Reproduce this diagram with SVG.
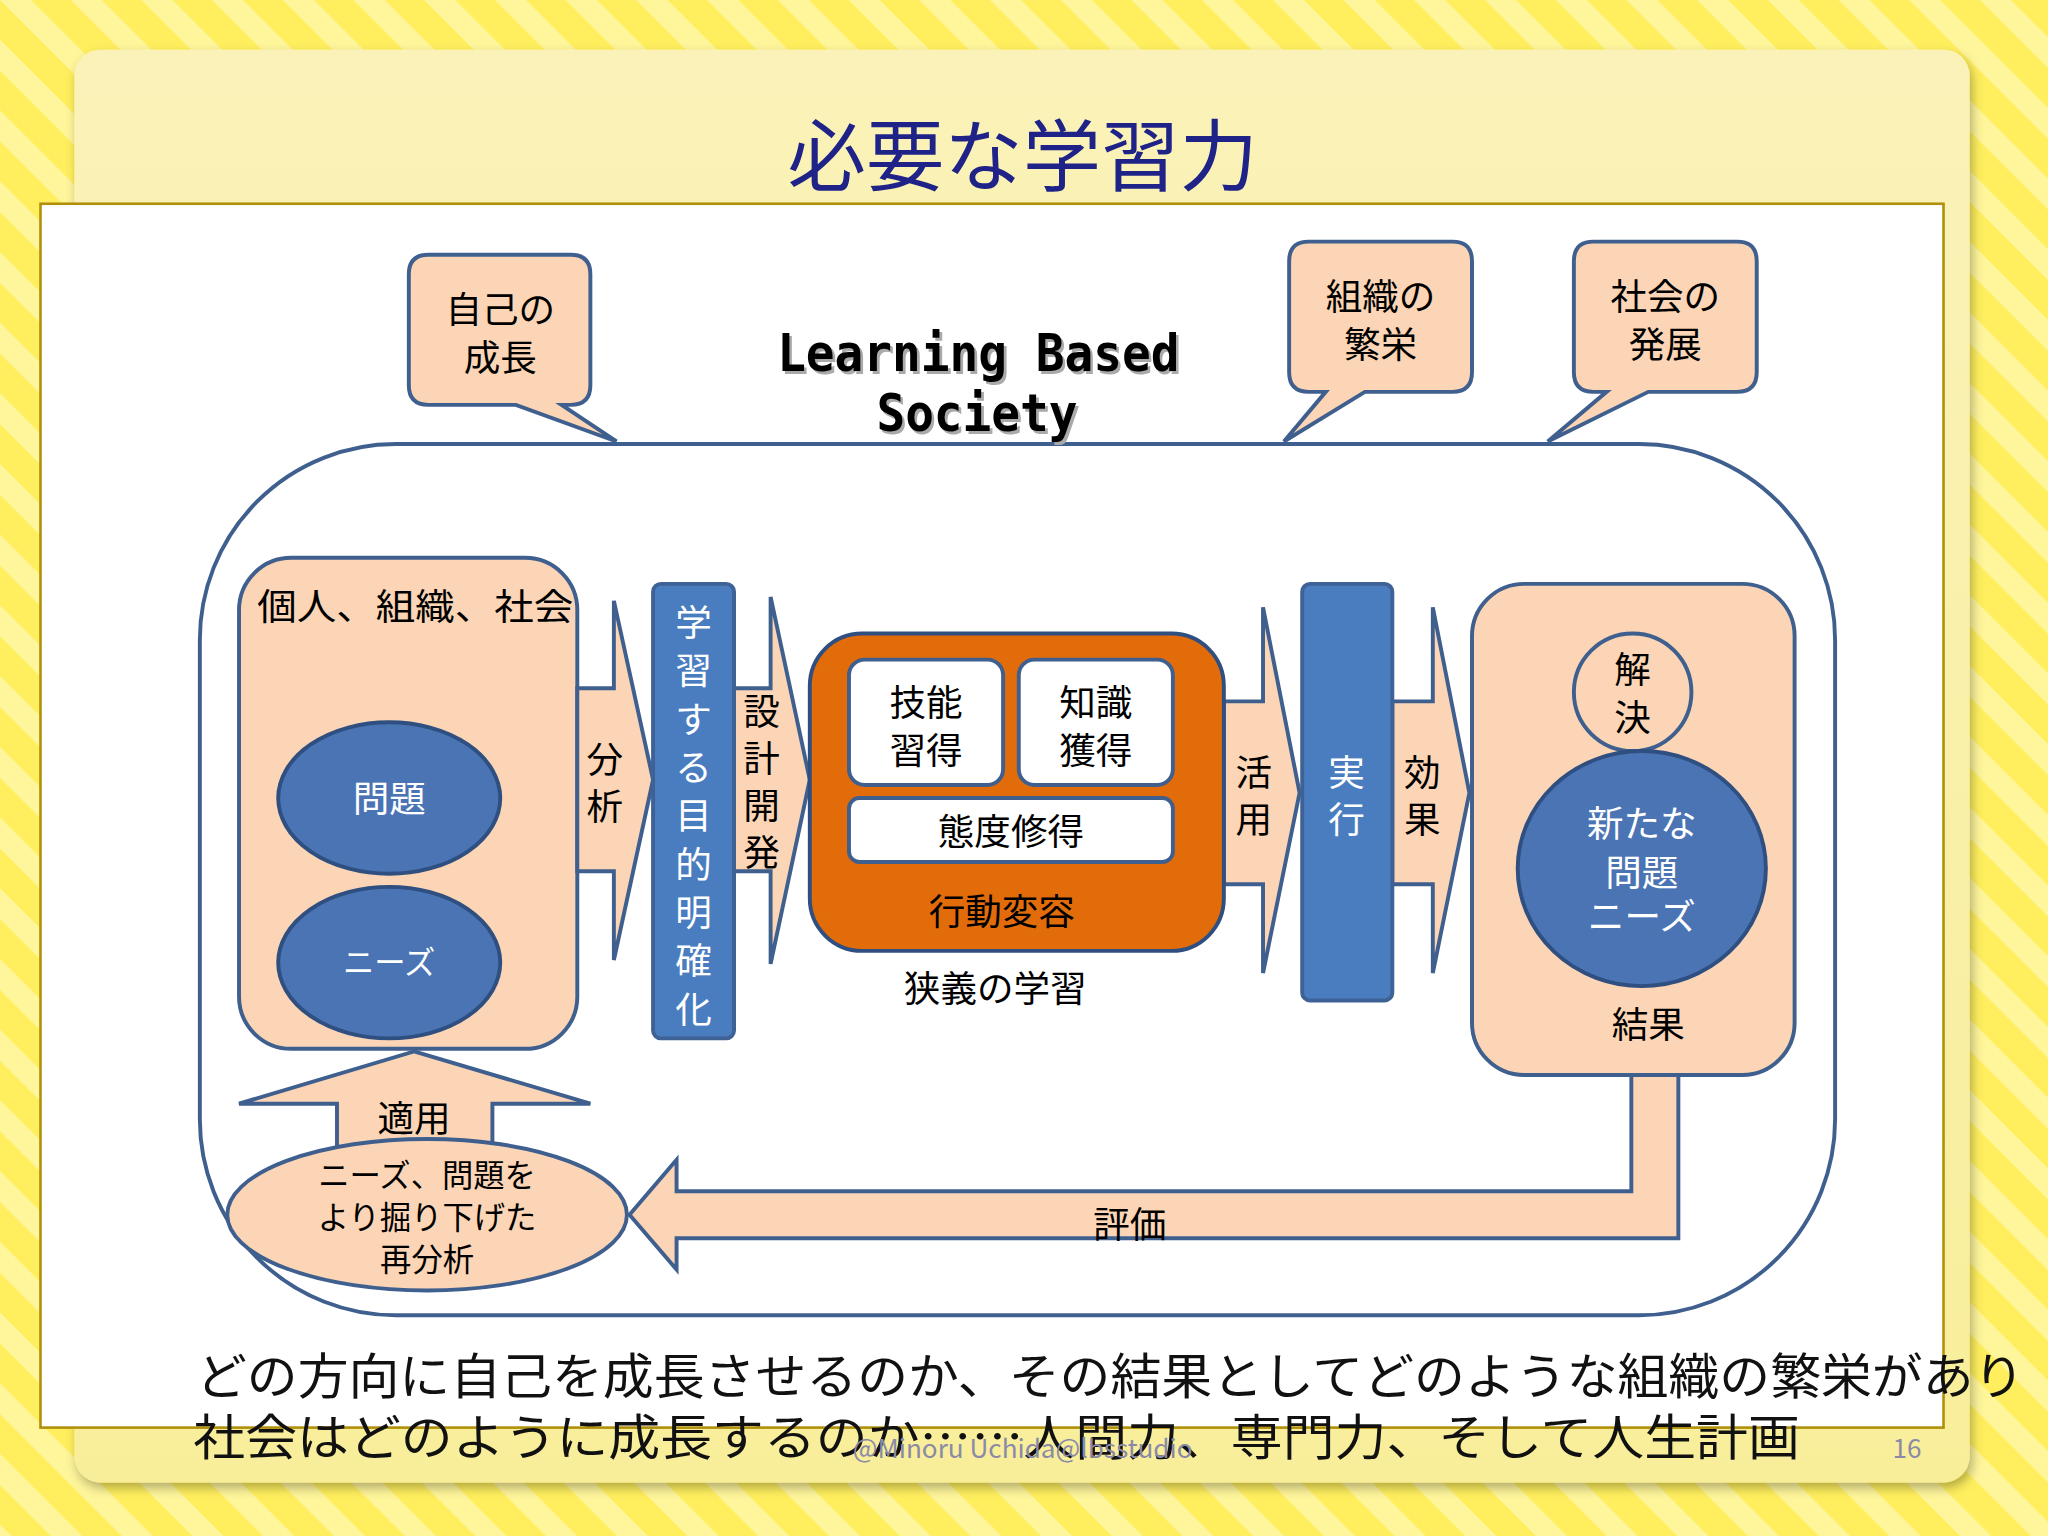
<svg xmlns="http://www.w3.org/2000/svg" width="2048" height="1536" viewBox="0 0 2048 1536">
<defs>
<pattern id="st" width="50" height="50" patternUnits="userSpaceOnUse" patternTransform="rotate(-45)">
<rect width="50" height="50" fill="#FFEF5E"/><rect width="22" height="50" fill="#FFF59A"/>
</pattern>
<linearGradient id="pan" x1="0" y1="0" x2="0" y2="1"><stop offset="0" stop-color="#FAF2B8"/><stop offset="1" stop-color="#F8EE9A"/></linearGradient>
<filter id="sh" x="-5%" y="-5%" width="110%" height="110%"><feDropShadow dx="2" dy="4" stdDeviation="4" flood-opacity="0.3"/></filter>
</defs>
<style>
.pk{fill:#FBD5B5;stroke:#3F5F8F;stroke-width:3}
.bl{fill:#4A74B4;stroke:#2E4F80;stroke-width:3}
.wb{fill:#fff;stroke:#3F5F8F;stroke-width:3}
.t{font-family:"Noto Sans CJK JP",sans-serif;fill:#000;text-anchor:middle}
.w{fill:#fff}
</style>
<rect width="2048" height="1536" fill="url(#st)"/>
<g transform="scale(1.30612)">
<rect x="57" y="38" width="1451" height="1097" rx="20" fill="url(#pan)" filter="url(#sh)"/>
<text x="783" y="142" class="t" font-size="60" style="fill:#1F2388">必要な学習力</text>
<rect x="31" y="156" width="1457" height="937" fill="#fff" stroke="#B0900A" stroke-width="2"/>
<rect x="153" y="340" width="1252" height="667" rx="150" fill="#fff" stroke="#3F5F8F" stroke-width="3"/>
<g id="c1"><path class="pk" d="M328,195 H437 Q452,195 452,210 V295 Q452,310 437,310 H430 L472,338 L395,310 H328 Q313,310 313,295 V210 Q313,195 328,195 Z"/>
<text x="383" y="247" class="t" font-size="28">自己の</text><text x="383" y="284" class="t" font-size="28">成長</text></g>
<g id="c2"><path class="pk" d="M1002,185 H1112 Q1127,185 1127,200 V285 Q1127,300 1112,300 H1045 L983,338 L1015,300 H1002 Q987,300 987,285 V200 Q987,185 1002,185 Z"/>
<text x="1057" y="237" class="t" font-size="28">組織の</text><text x="1057" y="274" class="t" font-size="28">繁栄</text></g>
<g id="c3"><path class="pk" d="M1220,185 H1330 Q1345,185 1345,200 V285 Q1345,300 1330,300 H1262 L1185,338 L1230,300 H1220 Q1205,300 1205,285 V200 Q1205,185 1220,185 Z"/>
<text x="1275" y="237" class="t" font-size="28">社会の</text><text x="1275" y="274" class="t" font-size="28">発展</text></g>
<g id="lbs" font-family="'DejaVu Sans Mono',monospace" font-weight="bold" font-size="40" text-anchor="middle">
<text x="751" y="286" fill="#aaa" textLength="308" lengthAdjust="spacingAndGlyphs">Learning Based</text><text x="749" y="284" textLength="308" lengthAdjust="spacingAndGlyphs">Learning Based</text>
<text x="750" y="332" fill="#aaa" textLength="154" lengthAdjust="spacingAndGlyphs">Society</text><text x="748" y="330" textLength="154" lengthAdjust="spacingAndGlyphs">Society</text></g>
<g id="left"><rect x="183" y="427" width="259" height="376" rx="40" class="pk"/>
<text x="318" y="475" class="t" font-size="28" textLength="242" lengthAdjust="spacingAndGlyphs">個人、組織、社会</text>
<ellipse cx="298" cy="611" rx="85" ry="58" class="bl"/><text x="298" y="622" class="t w" font-size="28">問題</text>
<ellipse cx="298" cy="737" rx="85" ry="58" class="bl"/><text x="298" y="746" class="t w" font-size="24">ニーズ</text></g>
<g id="connectors">
<path class="pk" d="M442,527 H470 V460 L500,597 L470,735 V667 H442 Z"/>
<path class="pk" d="M562,527 H590 V457 L620,597 L590,738 V667 H562 Z"/>
<path class="pk" d="M937,537 H967 V465 L995,607 L967,745 V677 H937 Z"/>
<path class="pk" d="M1066,537 H1097 V465 L1125,607 L1097,745 V677 H1066 Z"/>
<path class="pk" d="M1249,823 H1285 V948 H518 V972 L482,930 L518,888 V912 H1249 Z"/>
<path class="pk" d="M317,805 L452,845 H377 V885 H258 V845 H183 Z"/>
</g>
<text x="463" y="592" class="t" font-size="28">分</text><text x="463" y="628" class="t" font-size="28">析</text>
<g font-size="28" class="t"><text x="583" y="555">設</text><text x="583" y="591">計</text><text x="583" y="627">開</text><text x="583" y="663">発</text>
<text x="960" y="602">活</text><text x="960" y="638">用</text><text x="1089" y="602">効</text><text x="1089" y="638">果</text>
<text x="865" y="948">評価</text><text x="317" y="867">適用</text></g>
<g id="bar1"><rect x="500" y="447" width="62" height="348" rx="6" fill="#4A7DC0" stroke="#3F6296" stroke-width="3"/>
<g class="t w" font-size="28"><text x="531" y="487">学</text><text x="531" y="524">習</text><text x="531" y="561">す</text><text x="531" y="598">る</text><text x="531" y="635">目</text><text x="531" y="672">的</text><text x="531" y="709">明</text><text x="531" y="746">確</text><text x="531" y="783">化</text></g></g>
<g id="orange"><rect x="620" y="485" width="317" height="243" rx="40" fill="#E36C0A" stroke="#2F4F80" stroke-width="3"/>
<rect x="650" y="505" width="118" height="96" rx="12" class="wb"/><rect x="780" y="505" width="118" height="96" rx="12" class="wb"/><rect x="650" y="611" width="248" height="49" rx="8" class="wb"/>
<g class="t" font-size="28"><text x="709" y="548">技能</text><text x="709" y="585">習得</text><text x="839" y="548">知識</text><text x="839" y="585">獲得</text><text x="774" y="647">態度修得</text><text x="767" y="708">行動変容</text><text x="762" y="767">狭義の学習</text></g></g>
<g id="bar2"><rect x="997" y="447" width="69" height="319" rx="6" fill="#4A7DC0" stroke="#3F6296" stroke-width="3"/>
<text x="1031" y="602" class="t w" font-size="28">実</text><text x="1031" y="638" class="t w" font-size="28">行</text></g>
<g id="right"><rect x="1127" y="447" width="247" height="376" rx="40" class="pk"/>
<circle cx="1250" cy="530" r="45" class="pk"/><text x="1250" y="523" class="t" font-size="28">解</text><text x="1250" y="560" class="t" font-size="28">決</text>
<ellipse cx="1257" cy="665" rx="95" ry="90" class="bl"/>
<g class="t w" font-size="28"><text x="1257" y="641">新たな</text><text x="1257" y="678">問題</text><text x="1257" y="712">ニーズ</text></g>
<text x="1262" y="795" class="t" font-size="28">結果</text></g>
<g id="reana"><ellipse cx="327" cy="930" rx="153" ry="58" class="pk"/>
<g class="t" font-size="24"><text x="327" y="909">ニーズ、問題を</text><text x="327" y="941">より掘り下げた</text><text x="327" y="973">再分析</text></g></g>
<g font-family="'Noto Sans CJK JP',sans-serif" font-size="37" fill="#111">
<text x="150" y="1067" textLength="1400" lengthAdjust="spacingAndGlyphs">どの方向に自己を成長させるのか、その結果としてどのような組織の繁栄があり</text>
<text x="148" y="1114" textLength="1230" lengthAdjust="spacingAndGlyphs">社会はどのように成長するのか……人間力、専門力、そして人生計画</text></g>
<text x="783" y="1116" class="t" font-size="20" style="fill:#8A8AA8">@Minoru Uchida@lbsstudio</text>
<text x="1460" y="1116" class="t" font-size="20" style="fill:#8A8AA8">16</text>
</g>
</svg>
